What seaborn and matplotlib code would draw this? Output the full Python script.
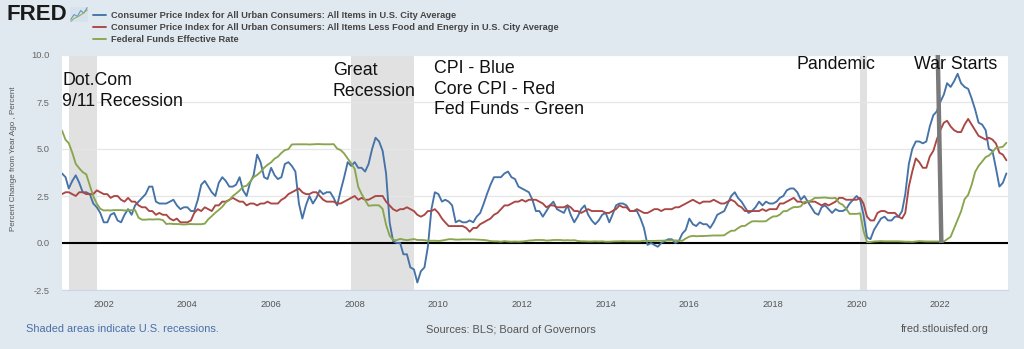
import numpy as np
import pandas as pd
import matplotlib
matplotlib.use("Agg")
import matplotlib.pyplot as plt
import matplotlib.dates as mdates
import seaborn as sns

# ---------------- data ----------------
start_month = "2001-01-01"
end_month = "2023-08-01"

cpi = [
    3.7, 3.5, 2.9, 3.3, 3.6, 3.2, 2.7, 2.7, 2.6, 2.1, 1.9, 1.6,   # 2001
    1.1, 1.1, 1.5, 1.6, 1.2, 1.1, 1.5, 1.8, 1.5, 2.0, 2.2, 2.4,   # 2002
    2.6, 3.0, 3.0, 2.2, 2.1, 2.1, 2.1, 2.2, 2.3, 2.0, 1.8, 1.9,   # 2003
    1.9, 1.7, 1.7, 2.3, 3.1, 3.3, 3.0, 2.7, 2.5, 3.2, 3.5, 3.3,   # 2004
    3.0, 3.0, 3.1, 3.5, 2.8, 2.5, 3.2, 3.6, 4.7, 4.3, 3.5, 3.4,   # 2005
    4.0, 3.6, 3.4, 3.5, 4.2, 4.3, 4.1, 3.8, 2.1, 1.3, 2.0, 2.5,   # 2006
    2.1, 2.4, 2.8, 2.6, 2.7, 2.7, 2.4, 2.0, 2.8, 3.5, 4.3, 4.1,   # 2007
    4.3, 4.0, 4.0, 3.8, 4.2, 5.0, 5.6, 5.4, 4.9, 3.7, 1.1, 0.1,   # 2008
    0.0, 0.0, -0.6, -0.6, -1.3, -1.4, -2.1, -1.5, -1.3, -0.2, 1.8, 2.7,  # 2009
    2.6, 2.2, 2.3, 2.2, 2.0, 1.1, 1.2, 1.1, 1.1, 1.2, 1.1, 1.4,   # 2010
    1.6, 2.1, 2.6, 3.1, 3.5, 3.5, 3.5, 3.7, 3.8, 3.5, 3.4, 3.0,   # 2011
    2.9, 2.8, 2.7, 2.3, 1.7, 1.7, 1.4, 1.7, 2.0, 2.2, 1.8, 1.7,   # 2012
    1.6, 2.0, 1.5, 1.1, 1.4, 1.8, 2.0, 1.5, 1.2, 1.0, 1.2, 1.5,   # 2013
    1.6, 1.1, 1.5, 2.0, 2.1, 2.1, 2.0, 1.7, 1.7, 1.7, 1.3, 0.8,   # 2014
    -0.1, 0.0, -0.1, -0.2, 0.0, 0.1, 0.2, 0.2, 0.0, 0.1, 0.5, 0.7,  # 2015
    1.3, 1.0, 0.9, 1.1, 1.0, 1.0, 0.8, 1.1, 1.5, 1.6, 1.7, 2.1,   # 2016
    2.5, 2.7, 2.4, 2.2, 1.9, 1.6, 1.7, 1.9, 2.2, 2.0, 2.2, 2.1,   # 2017
    2.1, 2.2, 2.4, 2.5, 2.8, 2.9, 2.9, 2.7, 2.3, 2.5, 2.2, 1.9,   # 2018
    1.6, 1.5, 1.9, 2.0, 1.8, 1.6, 1.8, 1.7, 1.7, 1.8, 2.1, 2.3,   # 2019
    2.5, 2.3, 1.5, 0.3, 0.2, 0.7, 1.0, 1.3, 1.4, 1.2, 1.2, 1.4,   # 2020
    1.4, 1.7, 2.6, 4.2, 5.0, 5.4, 5.4, 5.3, 5.4, 6.2, 6.8, 7.0,   # 2021
    7.5, 7.9, 8.5, 8.3, 8.6, 9.0, 8.5, 8.3, 8.2, 7.7, 7.1, 6.4,   # 2022
    6.3, 6.0, 5.0, 4.9, 4.0, 3.0, 3.2, 3.7,                       # 2023
]

core_cpi = [
    2.6, 2.7, 2.7, 2.6, 2.5, 2.7, 2.7, 2.6, 2.6, 2.6, 2.8, 2.7,   # 2001
    2.6, 2.6, 2.4, 2.5, 2.5, 2.3, 2.2, 2.4, 2.2, 2.2, 2.0, 1.9,   # 2002
    1.9, 1.7, 1.7, 1.5, 1.6, 1.5, 1.5, 1.3, 1.2, 1.3, 1.1, 1.1,   # 2003
    1.1, 1.2, 1.6, 1.8, 1.7, 1.9, 1.8, 1.7, 2.0, 2.0, 2.2, 2.2,   # 2004
    2.3, 2.4, 2.3, 2.2, 2.2, 2.0, 2.1, 2.1, 2.0, 2.1, 2.1, 2.2,   # 2005
    2.1, 2.1, 2.1, 2.3, 2.4, 2.6, 2.7, 2.8, 2.9, 2.7, 2.6, 2.6,   # 2006
    2.7, 2.7, 2.5, 2.3, 2.2, 2.2, 2.2, 2.1, 2.1, 2.2, 2.3, 2.4,   # 2007
    2.5, 2.3, 2.4, 2.3, 2.3, 2.4, 2.5, 2.5, 2.5, 2.2, 2.0, 1.8,   # 2008
    1.7, 1.8, 1.8, 1.9, 1.8, 1.7, 1.5, 1.4, 1.5, 1.7, 1.7, 1.8,   # 2009
    1.6, 1.3, 1.1, 0.9, 0.9, 0.9, 0.9, 0.9, 0.8, 0.6, 0.8, 0.8,   # 2010
    1.0, 1.1, 1.2, 1.3, 1.5, 1.6, 1.8, 2.0, 2.0, 2.1, 2.2, 2.2,   # 2011
    2.3, 2.2, 2.3, 2.3, 2.3, 2.2, 2.1, 1.9, 2.0, 2.0, 1.9, 1.9,   # 2012
    1.9, 2.0, 1.9, 1.7, 1.7, 1.6, 1.7, 1.8, 1.7, 1.7, 1.7, 1.7,   # 2013
    1.6, 1.6, 1.7, 1.8, 2.0, 1.9, 1.9, 1.7, 1.7, 1.8, 1.7, 1.6,   # 2014
    1.6, 1.7, 1.8, 1.8, 1.7, 1.8, 1.8, 1.8, 1.9, 1.9, 2.0, 2.1,   # 2015
    2.2, 2.3, 2.2, 2.1, 2.2, 2.2, 2.2, 2.3, 2.2, 2.1, 2.1, 2.2,   # 2016
    2.3, 2.2, 2.0, 1.9, 1.7, 1.7, 1.7, 1.7, 1.7, 1.8, 1.7, 1.8,   # 2017
    1.8, 1.8, 2.1, 2.1, 2.2, 2.3, 2.4, 2.2, 2.2, 2.1, 2.2, 2.2,   # 2018
    2.2, 2.1, 2.0, 2.1, 2.0, 2.1, 2.2, 2.4, 2.4, 2.3, 2.3, 2.3,   # 2019
    2.3, 2.4, 2.1, 1.4, 1.2, 1.2, 1.6, 1.7, 1.7, 1.6, 1.6, 1.6,   # 2020
    1.4, 1.3, 1.6, 3.0, 3.8, 4.5, 4.3, 4.0, 4.0, 4.6, 4.9, 5.5,   # 2021
    6.0, 6.4, 6.5, 6.2, 6.0, 5.9, 5.9, 6.3, 6.6, 6.3, 6.0, 5.7,   # 2022
    5.6, 5.5, 5.6, 5.5, 5.3, 4.8, 4.7, 4.4,                       # 2023
]

fed_funds = [
    5.98, 5.49, 5.31, 4.80, 4.21, 3.97, 3.77, 3.65, 3.07, 2.49, 2.09, 1.82,  # 2001
    1.73, 1.74, 1.73, 1.75, 1.75, 1.75, 1.73, 1.74, 1.75, 1.75, 1.34, 1.24,  # 2002
    1.24, 1.26, 1.25, 1.26, 1.26, 1.22, 1.01, 1.03, 1.01, 1.01, 1.00, 0.98,  # 2003
    1.00, 1.01, 1.00, 1.00, 1.00, 1.03, 1.26, 1.43, 1.61, 1.76, 1.93, 2.16,  # 2004
    2.28, 2.50, 2.63, 2.79, 3.00, 3.04, 3.26, 3.50, 3.62, 3.78, 4.00, 4.16,  # 2005
    4.29, 4.49, 4.59, 4.79, 4.94, 4.99, 5.24, 5.25, 5.25, 5.25, 5.25, 5.24,  # 2006
    5.25, 5.26, 5.26, 5.25, 5.25, 5.25, 5.26, 5.02, 4.94, 4.76, 4.49, 4.24,  # 2007
    3.94, 2.98, 2.61, 2.28, 1.98, 2.00, 2.01, 2.00, 1.81, 0.97, 0.39, 0.16,  # 2008
    0.15, 0.22, 0.18, 0.15, 0.18, 0.21, 0.16, 0.16, 0.15, 0.12, 0.12, 0.12,  # 2009
    0.11, 0.13, 0.16, 0.20, 0.20, 0.18, 0.18, 0.19, 0.19, 0.19, 0.19, 0.18,  # 2010
    0.17, 0.16, 0.14, 0.10, 0.09, 0.09, 0.07, 0.10, 0.08, 0.07, 0.08, 0.07,  # 2011
    0.08, 0.10, 0.13, 0.14, 0.16, 0.16, 0.16, 0.13, 0.14, 0.16, 0.16, 0.16,  # 2012
    0.14, 0.15, 0.14, 0.15, 0.11, 0.09, 0.09, 0.08, 0.08, 0.09, 0.08, 0.09,  # 2013
    0.07, 0.07, 0.08, 0.09, 0.09, 0.10, 0.09, 0.09, 0.09, 0.09, 0.09, 0.12,  # 2014
    0.11, 0.11, 0.11, 0.12, 0.12, 0.13, 0.13, 0.14, 0.14, 0.12, 0.12, 0.24,  # 2015
    0.34, 0.38, 0.36, 0.37, 0.37, 0.38, 0.39, 0.40, 0.40, 0.40, 0.41, 0.54,  # 2016
    0.65, 0.66, 0.79, 0.90, 0.91, 1.04, 1.15, 1.16, 1.15, 1.15, 1.16, 1.30,  # 2017
    1.41, 1.42, 1.51, 1.69, 1.70, 1.82, 1.91, 1.91, 1.95, 2.19, 2.20, 2.27,  # 2018
    2.40, 2.40, 2.41, 2.42, 2.39, 2.38, 2.40, 2.13, 2.04, 1.83, 1.55, 1.55,  # 2019
    1.55, 1.58, 0.65, 0.05, 0.05, 0.08, 0.09, 0.10, 0.09, 0.09, 0.09, 0.09,  # 2020
    0.09, 0.08, 0.07, 0.07, 0.06, 0.08, 0.10, 0.09, 0.08, 0.08, 0.08, 0.08,  # 2021
    0.08, 0.08, 0.20, 0.33, 0.77, 1.21, 1.68, 2.33, 2.56, 3.08, 3.78, 4.10,  # 2022
    4.33, 4.57, 4.65, 4.83, 5.06, 5.08, 5.12, 5.33,                          # 2023
]

series_names = [
    "Consumer Price Index for All Urban Consumers: All Items in U.S. City Average",
    "Consumer Price Index for All Urban Consumers: All Items Less Food and Energy in U.S. City Average",
    "Federal Funds Effective Rate",
]
series_colors = ["#4572a7", "#aa4643", "#89a54e"]

recession_start = ["2001-03-01", "2007-12-01", "2020-02-01"]
recession_end = ["2001-11-01", "2009-06-01", "2020-04-01"]

war_x = ["2021-12-10", "2022-01-10"]
war_y = [10.0, 0.0]

y_ticks = [-2.5, 0.0, 2.5, 5.0, 7.5, 10.0]
x_tick_years = list(range(2002, 2023, 2))

logo_blue = [1, 2, 1.6, 2.8, 2.3, 3.4]
logo_green = [0.6, 1.2, 1.5, 1.9, 2.4, 2.9]

# ---------------- figure ----------------
W, H = 1024, 349
BG = "#e1e9f0"
sns.set_style("white")
plt.rcParams["font.family"] = ["Liberation Sans", "DejaVu Sans"]

fig = plt.figure(figsize=(W / 100, H / 100), dpi=100, facecolor=BG)


def fx(px):
    return px / W


def fy(py):
    return 1 - py / H


ax = fig.add_axes([fx(62), fy(290), fx(1008) - fx(62), fy(55) - fy(290)])
ax.set_facecolor("white")

dates = pd.date_range(start_month, end_month, freq="MS")
df = pd.DataFrame({"date": dates,
                   series_names[0]: cpi,
                   series_names[1]: core_cpi,
                   series_names[2]: fed_funds})
long_df = df.melt(id_vars="date", var_name="series", value_name="value")

# recession shading
for s, e in zip(recession_start, recession_end):
    ax.axvspan(pd.Timestamp(s), pd.Timestamp(e), color="#e1e1e1", lw=0, zorder=0)

ax.set_ylim(-2.5, 10.0)
ax.set_xlim(pd.Timestamp("2001-01-01"), pd.Timestamp("2023-08-15"))
ax.set_yticks(y_ticks)
ax.set_yticklabels([f"{v:.1f}" for v in y_ticks])
ax.yaxis.grid(True, color="#e6e6e6", lw=0.9, zorder=1)
ax.set_axisbelow(True)

# zero line
ax.axhline(0, color="black", lw=1.5, zorder=2)

sns.lineplot(data=long_df, x="date", y="value", hue="series",
             hue_order=series_names, palette=series_colors,
             lw=1.35, legend=False, ax=ax, zorder=3)

# war line
ax.plot(pd.to_datetime(war_x), war_y, color="#7a7a7a", lw=3.2, zorder=4,
        solid_capstyle="butt")

ax.set_xticks([pd.Timestamp(f"{y}-01-01") for y in x_tick_years])
ax.xaxis.set_major_formatter(mdates.DateFormatter("%Y"))
ax.tick_params(axis="x", length=4, width=0.8, color="#ccd6eb",
               labelsize=6.7, labelcolor="#555555", pad=3.5)
ax.tick_params(axis="y", length=0, labelsize=6.7, labelcolor="#666666", pad=9)
ax.set_xlabel("")
ax.set_ylabel("Percent Change from Year Ago , Percent", fontsize=5.8,
              color="#555555", labelpad=4)
ax.yaxis.set_label_coords(-(62 - 17) / 946, (290 - 159) / 235)
for side in ["top", "right", "left"]:
    ax.spines[side].set_visible(False)
ax.spines["bottom"].set_color("#ccd6eb")
ax.spines["bottom"].set_linewidth(0.8)

# annotations
ann_kw = dict(fontsize=12.8, color="#111111", va="top", ha="left",
              linespacing=1.27, zorder=6)
fig.text(fx(62), fy(72), "Dot.Com\n9/11 Recession", **ann_kw)
fig.text(fx(333), fy(62), "Great\nRecession", **ann_kw)
fig.text(fx(434), fy(60), "CPI - Blue\nCore CPI - Red\nFed Funds - Green", **ann_kw)
fig.text(fx(797), fy(56), "Pandemic", **ann_kw)
fig.text(fx(914), fy(56), "War Starts", **ann_kw)

# legend at top
handles = ax.get_lines()[1:4]
leg = fig.legend(handles, series_names, loc="upper left",
                 bbox_to_anchor=(fx(93), fy(11)), frameon=False,
                 fontsize=6.7, handlelength=1.45, handletextpad=0.5,
                 labelspacing=0.32, borderpad=0, borderaxespad=0)
for t in leg.get_texts():
    t.set_color("#444444")
    t.set_fontweight("bold")

# FRED logo
fig.text(fx(7), fy(15), "FRED", fontsize=16, fontweight="heavy",
         color="#1a1a1a", va="center", ha="left",
         family=["Liberation Sans", "DejaVu Sans"])
lax = fig.add_axes([fx(70), fy(22), fx(18), fy(7) - fy(22)])
lax.set_facecolor("#d6e2ec")
lax.plot(range(len(logo_blue)), logo_blue, color="#6f93c2", lw=0.8)
lax.plot(range(len(logo_green)), logo_green, color="#8fb060", lw=0.8)
lax.set_xticks([])
lax.set_yticks([])
for sp in lax.spines.values():
    sp.set_visible(False)

# footer
foot_kw = dict(fontsize=7.9, va="center")
fig.text(fx(26), fy(329), "Shaded areas indicate U.S. recessions.",
         color="#4a6fa5", ha="left", **foot_kw)
fig.text(fx(426), fy(329), "Sources: BLS; Board of Governors",
         color="#555555", ha="left", **foot_kw)
fig.text(fx(989), fy(329), "fred.stlouisfed.org",
         color="#555555", ha="right", **foot_kw)

fig.savefig("out.png", dpi=100, facecolor=BG)
